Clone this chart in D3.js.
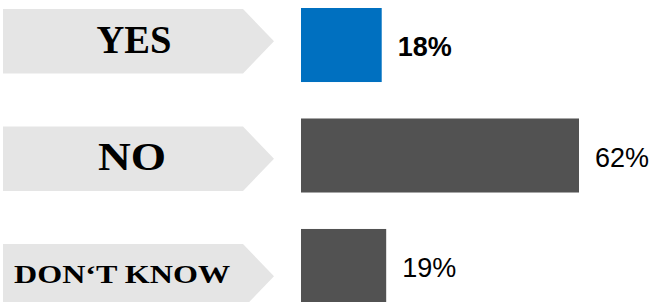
<!DOCTYPE html>
<meta charset="utf-8">
<script src="https://d3js.org/d3.v7.min.js"></script>
<style>
  body { margin: 0; background: #fff; }
</style>
<body>
<div id="chart"></div>
<script>
// answers and shares (%)
var categories = ["YES", "NO", "DON\u2018T KNOW"];
var values = [18, 62, 19];
var valueLabels = ["18%", "62%", "19%"];

// label look, one entry per category
var labelStyle = [
  {size: 40, len: 75, cx: 134},
  {size: 40, len: 68, cx: 132},
  {size: 26, len: 216, cx: 122}
];

var width = 654, height = 302;

var svg = d3.select("#chart")
  .append("svg")
    .attr("width", width)
    .attr("height", height);

// bars
var x = d3.scaleLinear()
  .domain([0, 62])
  .range([301, 579]);

var y = d3.scaleBand()
  .domain(categories)
  .range([8, 303])
  .paddingInner(0.33);

// arrow shapes on the left
var ya = d3.scaleBand()
  .domain(categories)
  .range([9, 308.5])
  .paddingInner(0.451);

var arrowLeft = 3, arrowBody = 243, arrowTip = 274;

svg.append("g")
  .selectAll("path")
  .data(categories)
  .enter()
  .append("path")
    .attr("fill", "#e5e5e5")
    .attr("d", function(d) {
      var t = ya(d), b = t + ya.bandwidth(), m = t + ya.bandwidth() / 2;
      return "M" + arrowLeft + "," + t + "L" + arrowBody + "," + t +
             "L" + arrowTip + "," + m + "L" + arrowBody + "," + b +
             "L" + arrowLeft + "," + b + "Z";
    });

svg.append("g")
  .selectAll("text")
  .data(categories)
  .enter()
  .append("text")
    .attr("x", function(d, i) { return labelStyle[i].cx; })
    .attr("y", function(d, i) {
      return ya(d) + ya.bandwidth() / 2 + labelStyle[i].size * 0.33 - 1.5;
    })
    .attr("text-anchor", "middle")
    .attr("font-family", "'Liberation Serif', 'Times New Roman', serif")
    .attr("font-weight", "bold")
    .attr("font-size", function(d, i) { return labelStyle[i].size + "px"; })
    .attr("textLength", function(d, i) { return labelStyle[i].len; })
    .attr("lengthAdjust", "spacingAndGlyphs")
    .attr("fill", "#000")
    .text(function(d) { return d; });

svg.append("g")
  .selectAll("rect")
  .data(values)
  .enter()
  .append("rect")
    .attr("x", x(0))
    .attr("y", function(d, i) { return y(categories[i]); })
    .attr("width", function(d) { return x(d) - x(0); })
    .attr("height", y.bandwidth())
    .attr("fill", function(d, i) { return i === 0 ? "#0070c0" : "#525252"; });

svg.append("g")
  .selectAll("text")
  .data(values)
  .enter()
  .append("text")
    .attr("x", function(d) { return x(d) + 16; })
    .attr("y", function(d, i) { return y(categories[i]) + y.bandwidth() / 2 + 11; })
    .attr("font-family", "'Liberation Sans', Arial, sans-serif")
    .attr("font-size", "27px")
    .attr("font-weight", function(d, i) { return i === 0 ? "bold" : "normal"; })
    .attr("fill", "#000")
    .text(function(d, i) { return valueLabels[i]; });
</script>
</body>
